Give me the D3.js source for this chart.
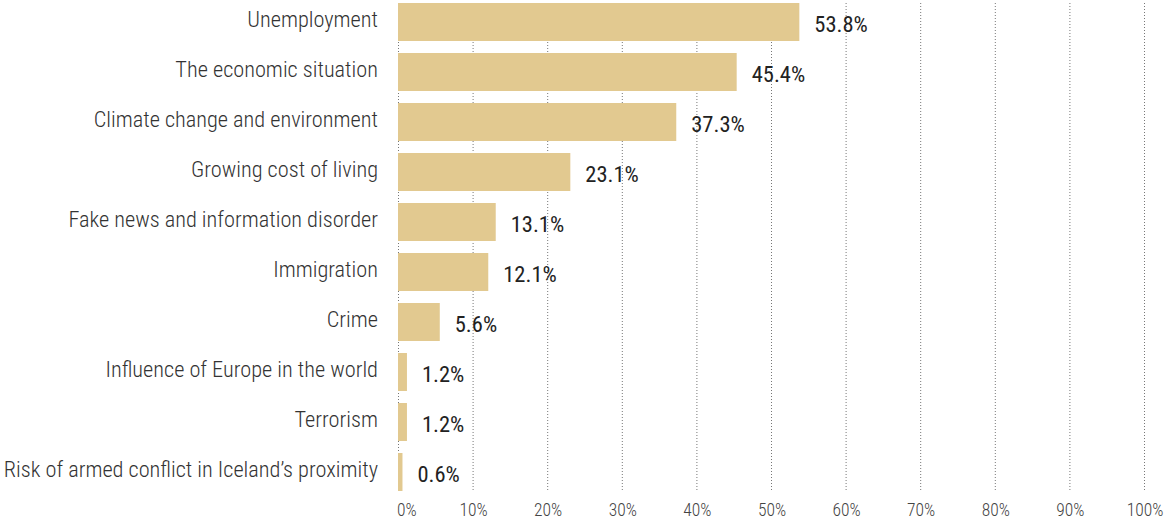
<!DOCTYPE html>
<html>
<head>
<meta charset="utf-8">
<script src="https://cdn.jsdelivr.net/npm/d3@7"></script>
<style>
  html, body { margin: 0; padding: 0; background: #fff; }
  svg { display: block; }
  text { font-family: "Roboto Condensed", "Liberation Sans Narrow", "Arial Narrow", sans-serif; }
</style>
</head>
<body>
<svg id="chart" width="1164" height="520"></svg>
<script>
// Share of respondents naming each issue (%)
const categories = [
  "Unemployment",
  "The economic situation",
  "Climate change and environment",
  "Growing cost of living",
  "Fake news and information disorder",
  "Immigration",
  "Crime",
  "Influence of Europe in the world",
  "Terrorism",
  "Risk of armed conflict in Iceland\u2019s proximity"
];
const values = [53.8, 45.4, 37.3, 23.1, 13.1, 12.1, 5.6, 1.2, 1.2, 0.6];
const tickValues = [0, 10, 20, 30, 40, 50, 60, 70, 80, 90, 100];
const tickLabels = ["0%", "10%", "20%", "30%", "40%", "50%", "60%", "70%", "80%", "90%", "100%"];

const svg = d3.select("#chart");

const x = d3.scaleLinear().domain([0, 100]).range([398, 1144]);
const y = d3.scaleBand()
  .domain(categories)
  .range([-3, 497])
  .paddingInner(0.24)
  .paddingOuter(0.12);

const gridTop = y(categories[0]);
const gridBottom = y(categories[categories.length - 1]) + y.bandwidth();

// dotted vertical gridlines
svg.append("g")
  .selectAll("line")
  .data(tickValues)
  .join("line")
  .attr("x1", d => x(d) + 0.5)
  .attr("x2", d => x(d) + 0.5)
  .attr("y1", gridTop)
  .attr("y2", gridBottom)
  .attr("stroke", "#777")
  .attr("stroke-width", 1)
  .attr("stroke-dasharray", "1,2");

// bars
svg.append("g")
  .selectAll("rect")
  .data(values)
  .join("rect")
  .attr("x", x(0))
  .attr("y", (d, i) => y(categories[i]))
  .attr("width", d => x(d) - x(0))
  .attr("height", y.bandwidth())
  .attr("fill", "#e2c990");

// category labels
svg.append("g")
  .selectAll("text")
  .data(categories)
  .join("text")
  .attr("x", 378)
  .attr("y", d => y(d) + y.bandwidth() / 2 + 4.7)
  .attr("text-anchor", "end")
  .attr("font-size", 22.3)
  .attr("font-weight", 300)
  .attr("fill", "#333")
  .text(d => d);

// value labels
svg.append("g")
  .selectAll("text")
  .data(values)
  .join("text")
  .attr("x", d => x(d) + 15)
  .attr("y", (d, i) => y(categories[i]) + y.bandwidth() / 2 + 10.3)
  .attr("font-size", 22.5)
  .attr("fill", "#222")
  .text(d => d.toFixed(1) + "%");

// x-axis tick labels
svg.append("g")
  .selectAll("text")
  .data(tickValues)
  .join("text")
  .attr("x", (d, i) => i === 0 ? x(d) - 1 : x(d) + 1)
  .attr("y", 516)
  .attr("text-anchor", (d, i) => i === 0 ? "start" : "middle")
  .attr("font-size", 17.5)
  .attr("font-weight", 300)
  .attr("fill", "#444")
  .text((d, i) => tickLabels[i]);
</script>
</body>
</html>
